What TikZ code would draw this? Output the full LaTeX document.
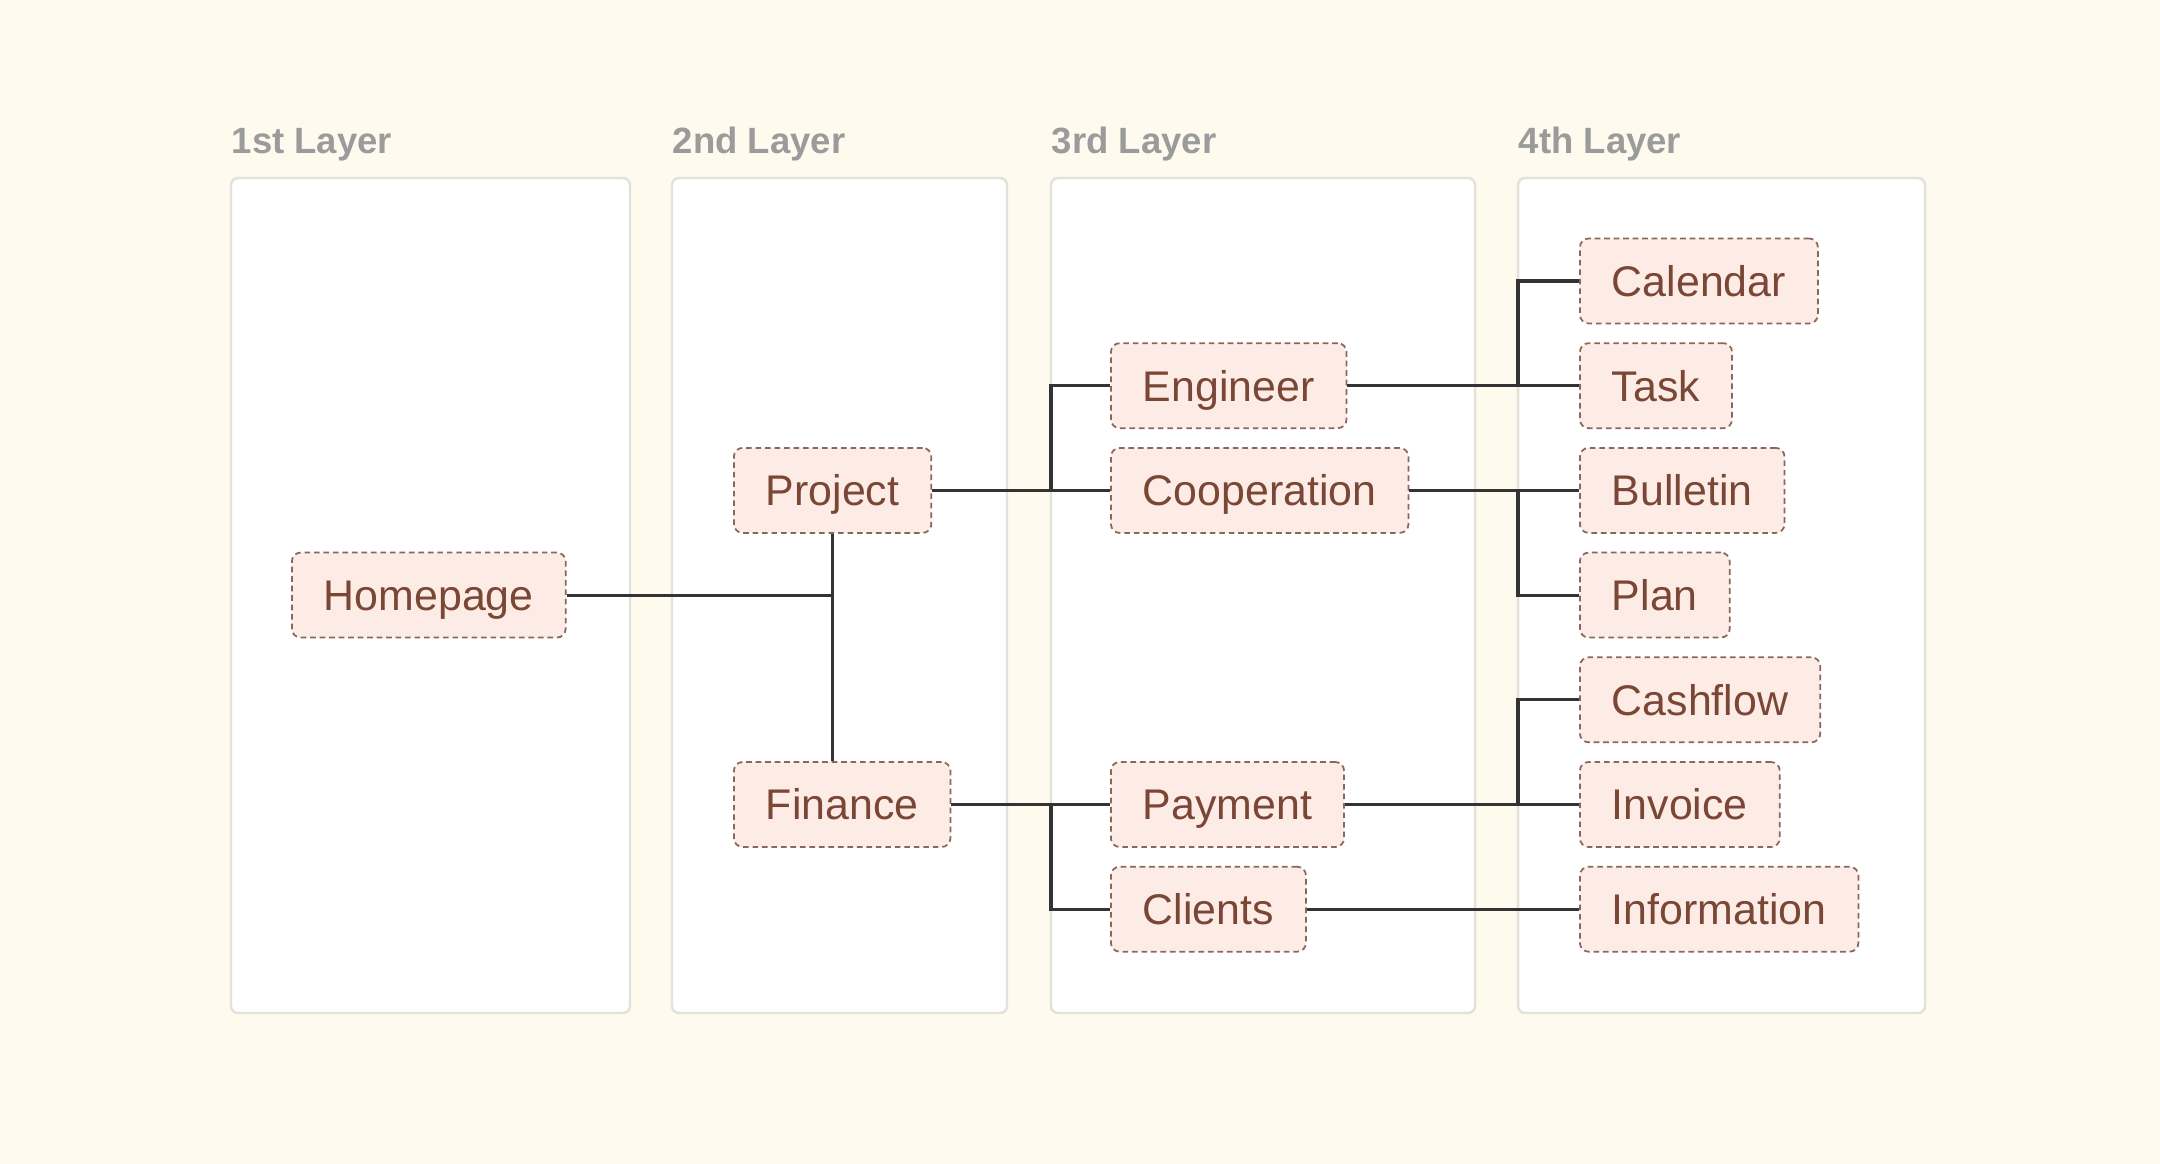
\documentclass[tikz,border=0pt]{standalone}
\usepackage{fontspec}
\setmainfont{Liberation Sans}
\definecolor{bgcream}{HTML}{FEFAEE}
\definecolor{panelline}{HTML}{E4E1DA}
\definecolor{titlegray}{HTML}{9B9B9B}
\definecolor{itemfill}{HTML}{FDECE5}
\definecolor{itemline}{HTML}{8A675C}
\definecolor{itemtext}{HTML}{7A4636}
\definecolor{linkcolor}{HTML}{333333}
\begin{document}
\begin{tikzpicture}[
  panel/.style={draw=panelline, fill=white, rounded corners=2pt, line width=0.7pt},
  layer/.style={anchor=base west, inner sep=0pt, text=titlegray, font=\fontsize{10.4}{12}\selectfont\bfseries},
  item/.style={anchor=west, draw=itemline, fill=itemfill, dash pattern=on 1.6pt off 1.1pt, line width=0.5pt,
    rounded corners=2.5pt, minimum height=0.85cm, inner xsep=0.32cm, inner ysep=0pt,
    text height=8.8pt, text depth=0pt, text=itemtext, font=\fontsize{12.2}{14}\selectfont},
  link/.style={draw=linkcolor, line width=0.9pt}]
\useasboundingbox (0,0) rectangle (21.6,-11.64);
\fill[bgcream] (0,0) rectangle (21.6,-11.64);

\draw[panel] (2.31,-1.78) rectangle (6.30,-10.13);
\draw[panel] (6.72,-1.78) rectangle (10.07,-10.13);
\draw[panel] (10.51,-1.78) rectangle (14.75,-10.13);
\draw[panel] (15.18,-1.78) rectangle (19.25,-10.13);
\node[layer] (t1) at (2.31,-1.54) {1st Layer};
\node[layer] (t2) at (6.72,-1.54) {2nd Layer};
\node[layer] (t3) at (10.51,-1.54) {3rd Layer};
\node[layer] (t4) at (15.18,-1.54) {4th Layer};

\coordinate (j3) at (10.51,0);
\coordinate (j4) at (15.18,0);

\node[item] (home) at (2.91,-5.951) {Homepage};
\node[item] (proj) at (7.33,-4.904) {Project};
\node[item] (fin) at (7.33,-8.045) {Finance};
\node[item] (eng) at (11.10,-3.857) {Engineer};
\node[item] (coop) at (11.10,-4.904) {Cooperation};
\node[item] (pay) at (11.10,-8.045) {Payment};
\node[item] (cli) at (11.10,-9.092) {Clients};
\node[item] (cal) at (15.79,-2.810) {Calendar};
\node[item] (task) at (15.79,-3.857) {Task};
\node[item] (bull) at (15.79,-4.904) {Bulletin};
\node[item] (plan) at (15.79,-5.951) {Plan};
\node[item] (cash) at (15.79,-6.998) {Cashflow};
\node[item] (inv) at (15.79,-8.045) {Invoice};
\node[item] (info) at (15.79,-9.092) {Information};

\draw[link] (proj.south) -- (proj.south |- fin.north);
\draw[link] (home.east) -- (home.east -| proj.south);
\draw[link] (proj.east) -- (coop.west);
\draw[link] (eng.west) -- (eng.west -| j3) |- (coop.west);
\draw[link] (fin.east) -- (pay.west);
\draw[link] (pay.west -| j3) |- (cli.west);
\draw[link] (eng.east) -- (task.west);
\draw[link] (cal.west) -- (cal.west -| j4) |- (task.west);
\draw[link] (coop.east) -- (bull.west);
\draw[link] (bull.west -| j4) |- (plan.west);
\draw[link] (pay.east) -- (inv.west);
\draw[link] (cash.west) -- (cash.west -| j4) |- (inv.west);
\draw[link] (cli.east) -- (info.west);
\end{tikzpicture}
\end{document}
